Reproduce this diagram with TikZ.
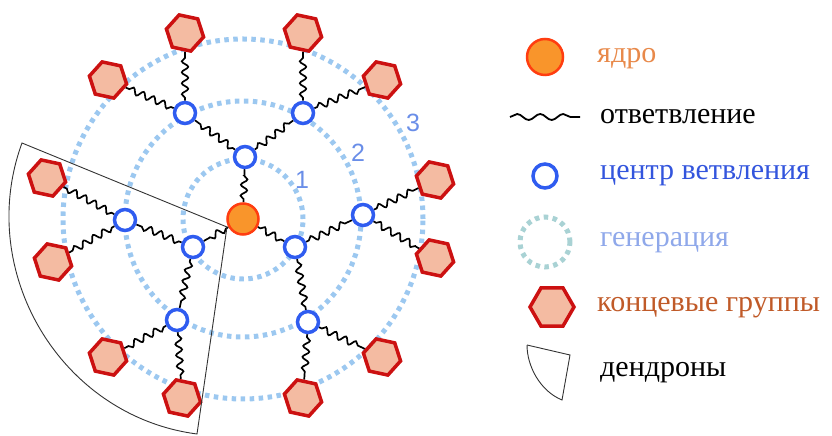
\documentclass[tikz,border=0pt]{standalone}
\usepackage{fontspec}
\setmainfont{Liberation Serif}
\newfontfamily\legfont{Liberation Serif}
\newfontfamily\numfont{Liberation Sans}
\usetikzlibrary{shapes.geometric,decorations.pathmorphing,backgrounds}
\definecolor{ringblue}{HTML}{9CC8F0}
\definecolor{ptblue}{HTML}{2F5CF0}
\definecolor{corefill}{HTML}{F9952B}
\definecolor{coreline}{HTML}{FF3D10}
\definecolor{hexfill}{HTML}{F4BBA2}
\definecolor{hexline}{HTML}{CC1111}
\definecolor{numblue}{HTML}{6A8EE8}
\definecolor{txtorange}{HTML}{E8894A}
\definecolor{txtblue}{HTML}{3355DD}
\definecolor{txtgen}{HTML}{8FA8EA}
\definecolor{txtbrown}{HTML}{C05A28}
\definecolor{gencol}{HTML}{A9D2D4}
\tikzset{
  hexg/.style={regular polygon, regular polygon sides=6, minimum size=38pt, inner sep=0pt,
    draw=hexline, line width=3.5pt, fill=hexfill, shape border rotate=-12},
  hexleg/.style={regular polygon, regular polygon sides=6, minimum size=44pt, inner sep=0pt,
    draw=hexline, line width=3.5pt, fill=hexfill},
  branchpt/.style={circle, draw=ptblue, line width=3.5pt, fill=white, minimum size=21pt, inner sep=0pt},
  corept/.style={circle, draw=coreline, line width=2.5pt, fill=corefill, minimum size=31pt, inner sep=0pt},
  gencirc/.style={draw=ringblue, line width=5pt, dash pattern=on 4.5pt off 4.5pt},
  wavy/.style={draw=black, line width=1.7pt, decorate,
    decoration={snake, amplitude=3.2pt, segment length=11pt, pre length=3pt, post length=3pt}},
  legtext/.style={anchor=base west, inner sep=0pt, font=\legfont\fontsize{30}{33}\selectfont},
  numlab/.style={font=\numfont\fontsize{25}{27}\selectfont, text=numblue, inner sep=0pt},
}
\begin{document}
\begin{tikzpicture}[x=1pt,y=1pt]
\useasboundingbox (0,0) rectangle (832,436);
% nodes
\node[corept] (C) at (243,217) {};
\node[branchpt] (t1) at (245,279) {};
\node[branchpt] (l1) at (193,189) {};
\node[branchpt] (r1) at (295,189) {};
\node[branchpt] (t2a) at (185,323) {};
\node[branchpt] (t2b) at (303,323) {};
\node[branchpt] (l2a) at (125,216) {};
\node[branchpt] (l2b) at (177,116) {};
\node[branchpt] (r2a) at (363,221) {};
\node[branchpt] (r2b) at (308,114) {};
\node[hexg] (ha) at (185,403) {};
\node[hexg] (hb) at (108,356) {};
\node[hexg] (hc) at (303,403) {};
\node[hexg] (hd) at (382,356) {};
\node[hexg] (he) at (47,258) {};
\node[hexg] (hf) at (53,174) {};
\node[hexg] (hg) at (435,256) {};
\node[hexg] (hh) at (435,178) {};
\node[hexg] (hi) at (108,79) {};
\node[hexg] (hj) at (182,38) {};
\node[hexg] (hk) at (303,38) {};
\node[hexg] (hl) at (382,79) {};
\node[numlab] (n1) at (302,256) {1};
\node[numlab] (n2) at (358,283) {2};
\node[numlab] (n3) at (413,313) {3};
\begin{scope}[on background layer]
  \draw[gencirc] (C.center) circle[radius=60];
  \draw[gencirc] (C.center) circle[radius=118];
  \draw[gencirc] (C.center) circle[radius=180];
  \draw[wavy] (C) -- (t1);
  \draw[wavy] (C) -- (l1);
  \draw[wavy] (C) -- (r1);
  \draw[wavy] (t1) -- (t2a);
  \draw[wavy] (t1) -- (t2b);
  \draw[wavy] (l1) -- (l2a);
  \draw[wavy] (l1) -- (l2b);
  \draw[wavy] (r1) -- (r2a);
  \draw[wavy] (r1) -- (r2b);
  \draw[wavy] (t2a) -- (ha);
  \draw[wavy] (t2a) -- (hb);
  \draw[wavy] (t2b) -- (hc);
  \draw[wavy] (t2b) -- (hd);
  \draw[wavy] (l2a) -- (he);
  \draw[wavy] (l2a) -- (hf);
  \draw[wavy] (r2a) -- (hg);
  \draw[wavy] (r2a) -- (hh);
  \draw[wavy] (l2b) -- (hi);
  \draw[wavy] (l2b) -- (hj);
  \draw[wavy] (r2b) -- (hk);
  \draw[wavy] (r2b) -- (hl);
\end{scope}
% dendron sector
\coordinate (dApex) at (227,209);
\coordinate (dA) at (22,293);
\coordinate (dB) at (197,2);
\draw[line width=0.9pt, draw=black!80] (dApex) -- (dA) .. controls (-25,165) and (60,20) .. (dB) -- cycle;
% legend
\node[corept, minimum size=36pt] (lcore) at (545,379) {};
\node[legtext, text=txtorange] (tcore) at (597,373) {ядро};
\coordinate (lw1) at (510,319);
\coordinate (lw2) at (580,319);
\draw[line width=1.8pt, decorate, decoration={snake, amplitude=3pt, segment length=23pt}] (lw1) -- (lw2);
\node[legtext, text=black] (tbranch) at (600,312) {ответвление};
\node[branchpt, minimum size=24pt] (lpt) at (545,260) {};
\node[legtext, text=txtblue] (tpt) at (600,256) {центр ветвления};
\coordinate (lgen) at (545,194);
\draw[draw=gencol, line width=5pt, dash pattern=on 4.5pt off 4.5pt] (lgen) circle[radius=25];
\node[legtext, text=txtgen] (tgen) at (600,189) {генерация};
\node[hexleg] (lhex) at (552,129) {};
\node[legtext, text=txtbrown] (thex) at (597,124) {концевые группы};
\coordinate (ld1) at (527,91);
\coordinate (ld2) at (570,81);
\coordinate (ld3) at (562,36);
\draw[line width=0.9pt, draw=black!80] (ld1) -- (ld2) -- (ld3) .. controls (540,45) and (527,70) .. (ld1);
\node[legtext, text=black] (tden) at (600,59) {дендроны};
\end{tikzpicture}
\end{document}
